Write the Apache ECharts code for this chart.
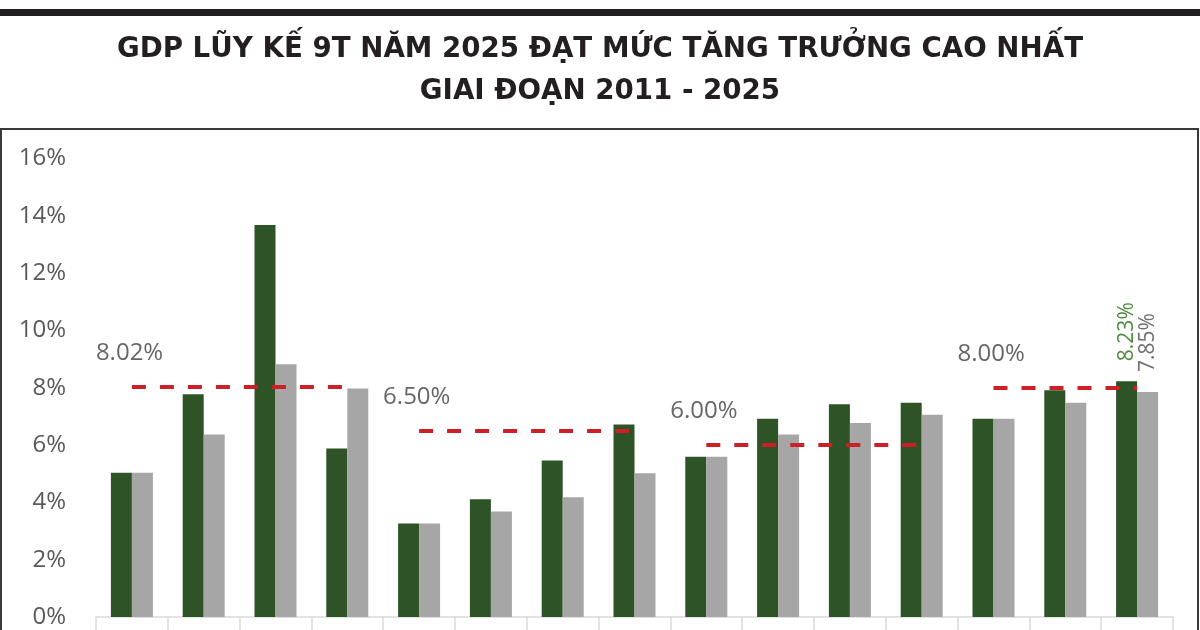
<!DOCTYPE html>
<html>
<head>
<meta charset="utf-8">
<style>
    html, body { margin: 0; padding: 0; background: #fff; }
    #chartGdpDom { width: 1200px; height: 630px; }
</style>
<script src="https://cdn.jsdelivr.net/npm/echarts@6/dist/echarts.min.js"></script>
</head>
<body>
<div id="chartGdpDom"></div>
<script>
// số liệu
const years = ['2011', '2012', '2013', '2014', '2015', '2016', '2017', '2018', '2019', '2020', '2021', '2022', '2023', '2024', '2025'];
const greenValues = [5.03, 7.77, 13.68, 5.88, 3.26, 4.11, 5.46, 6.72, 5.59, 6.92, 7.42, 7.48, 6.92, 7.91, 8.23];
const grayValues = [5.03, 6.37, 8.82, 7.97, 3.26, 3.68, 4.18, 5.02, 5.59, 6.37, 6.77, 7.06, 6.92, 7.48, 7.85];
const targetValues = [8.02, 6.50, 6.00, 8.00];
const targetStart = [0, 4, 8, 12];
const targetEnd = [3, 7, 11, 14];
const yTicks = [0, 2, 4, 6, 8, 10, 12, 14, 16];

window.onload = function () {
    let chartGdpDom = document.getElementById('chartGdpDom');
    let chartGdp = echarts.init(chartGdpDom);

    let last = years.length - 1;

    function lastLabel(color) {
        return {
            show: true,
            position: 'top',
            distance: 20,
            rotate: 90,
            align: 'left',
            verticalAlign: 'middle',
            color: color,
            fontFamily: 'Open Sans',
            fontSize: 21,
            formatter: (p) => p.value.toFixed(2) + '%'
        };
    }

    let greenData = greenValues.map((v, i) => i === last ? { value: v, label: lastLabel('#4e8a3e') } : v);
    let grayData = grayValues.map((v, i) => i === last ? { value: v, label: lastLabel('#6f6f6f') } : v);

    let targetLines = targetValues.map((v, i) => [
        { coord: [targetStart[i], v] },
        { coord: [targetEnd[i], v] }
    ]);
    let targetLabels = targetValues.map((v, i) => [targetStart[i], v]);

    let option = {
        animation: false,
        title: {
            text: 'GDP LŨY KẾ 9T NĂM 2025 ĐẠT MỨC TĂNG TRƯỞNG CAO NHẤT\nGIAI ĐOẠN 2011 - 2025',
            left: 'center',
            top: 24,
            textStyle: {
                color: '#231f20',
                fontFamily: 'DejaVu Sans',
                fontWeight: 'bold',
                fontSize: 27.7,
                lineHeight: 42
            }
        },
        graphic: [
            {
                type: 'rect',
                shape: { x: 0, y: 9, width: 1200, height: 7 },
                style: { fill: '#231f20' }
            },
            {
                type: 'rect',
                shape: { x: 1, y: 129, width: 1197, height: 520 },
                style: { fill: 'none', stroke: '#3a3a3a', lineWidth: 2 }
            }
        ],
        grid: {
            left: 96,
            right: 27,
            top: 158.5,
            bottom: 13
        },
        xAxis: {
            type: 'category',
            data: years,
            axisLine: { lineStyle: { color: '#d9d9d9', width: 1.5 } },
            axisTick: { show: true, length: 14, lineStyle: { color: '#d9d9d9', width: 1.5 } },
            axisLabel: { show: false }
        },
        yAxis: {
            type: 'value',
            min: yTicks[0],
            max: yTicks[yTicks.length - 1],
            interval: 2,
            axisLine: { show: false },
            axisTick: { show: false },
            splitLine: { show: false },
            axisLabel: {
                formatter: '{value}%',
                color: '#595959',
                fontFamily: 'Open Sans',
                fontSize: 24,
                margin: 30
            }
        },
        series: [
            {
                name: 'green',
                type: 'bar',
                data: greenData,
                barWidth: 21,
                barGap: '0%',
                itemStyle: { color: '#2d5327' }
            },
            {
                name: 'gray',
                type: 'bar',
                data: grayData,
                barWidth: 21,
                barGap: '0%',
                itemStyle: { color: '#a6a6a6' }
            },
            {
                name: 'target',
                type: 'scatter',
                data: targetLabels,
                symbolSize: 0,
                z: 5,
                label: {
                    show: true,
                    position: 'inside',
                    align: 'left',
                    verticalAlign: 'middle',
                    offset: [-36, -34],
                    color: '#404040',
                    fontFamily: 'Open Sans',
                    fontSize: 24,
                    formatter: (p) => p.value[1].toFixed(2) + '%'
                },
                markLine: {
                    silent: true,
                    symbol: 'none',
                    label: { show: false },
                    lineStyle: { color: '#cc1f26', width: 4, type: [14, 14] },
                    data: targetLines
                }
            }
        ]
    };

    chartGdp.setOption(option);
};
</script>
</body>
</html>
